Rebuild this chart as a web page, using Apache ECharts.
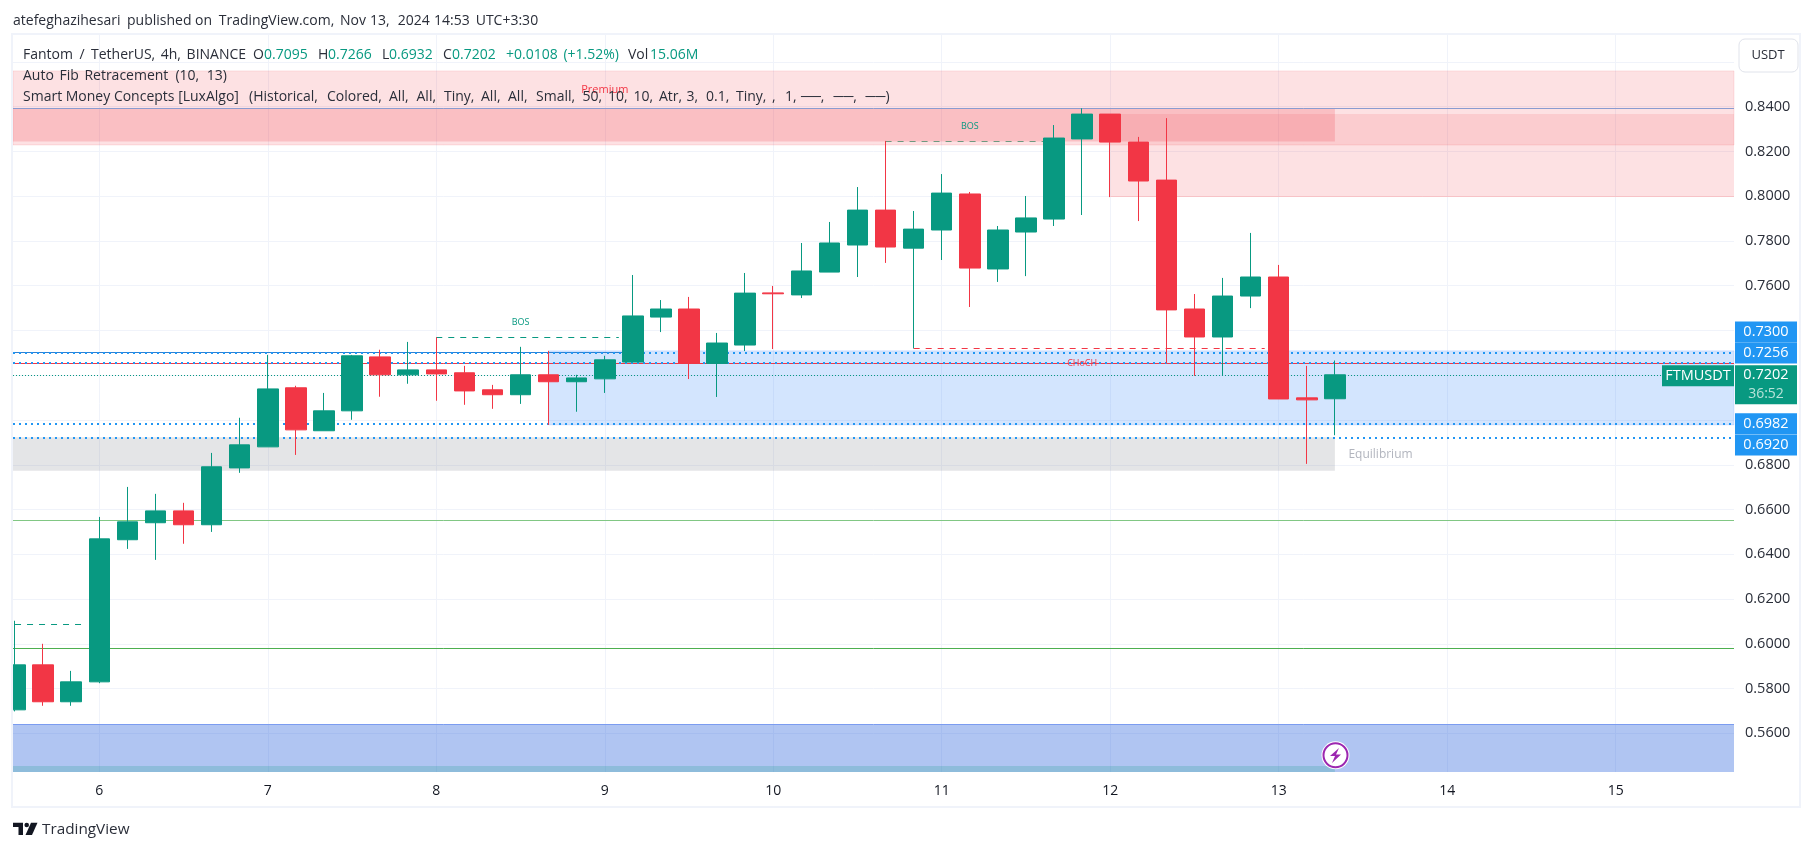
<!DOCTYPE html>
<html><head><meta charset="utf-8">
<style>html,body{margin:0;padding:0;background:#fff}#c{width:1814px;height:851px}</style>
<script src="https://cdn.jsdelivr.net/npm/echarts@6/dist/echarts.min.js"></script>
</head><body><div id="c"></div>
<script>
// Hours after the start of day 6 for each 4h candle
const candleHours=[-12,-8,-4,0,4,8,12,16,20,24,28,32,36,40,44,48,52,56,60,64,68,72,76,80,84,88,92,96,100,104,108,112,116,120,124,128,132,136,140,144,148,152,156,160,164,168,172,176];
const opens =[.5705,.5906,.5741,.5830,.6465,.6541,.6594,.6532,.6786,.6880,.7144,.6952,.7041,.7282,.7202,.7224,.7211,.7135,.7113,.7202,.7171,.7184,.7259,.7460,.7496,.7253,.7335,.7568,.7559,.7661,.7782,.7938,.7768,.7849,.8010,.7675,.7840,.7898,.8256,.8367,.8242,.8072,.7496,.7371,.7554,.7639,.7099,.7095];
const closes=[.5906,.5741,.5830,.6469,.6545,.6594,.6532,.6791,.6889,.7139,.6956,.7041,.7287,.7202,.7224,.7206,.7130,.7113,.7202,.7171,.7188,.7269,.7465,.7496,.7253,.7344,.7567,.7564,.7666,.7791,.7938,.7773,.7853,.8014,.7679,.7849,.7903,.8260,.8367,.8242,.8068,.7492,.7371,.7554,.7639,.7094,.7090,.7202];
const lows  =[.5698,.5723,.5723,.5824,.6424,.6375,.6447,.6500,.6764,.6880,.6844,.6952,.7001,.7104,.7162,.7086,.7068,.7050,.7072,.6978,.7037,.7121,.7259,.7393,.7183,.7103,.7308,.7317,.7545,.7661,.7639,.7702,.7320,.7715,.7505,.7617,.7643,.7867,.7916,.7996,.7889,.7253,.7197,.7197,.7500,.7094,.6804,.6932];
const highs =[.6103,.6000,.5879,.6567,.6701,.6670,.6630,.6853,.7010,.7291,.7153,.7121,.7291,.7314,.7349,.7370,.7242,.7157,.7327,.7309,.7202,.7287,.7648,.7536,.7550,.7389,.7657,.7599,.7791,.7885,.8041,.8247,.7934,.8099,.8019,.7867,.8001,.8318,.8393,.8367,.8265,.8349,.7563,.7635,.7836,.7693,.7242,.7266];
const dayTicks=[0,24,48,72,96,120,144,168,192,216];
const dayLabels=['6','7','8','9','10','11','12','13','14','15'];
const gridPrices=[.56,.58,.60,.62,.64,.66,.68,.70,.72,.74,.76,.78,.80,.82,.84,.86];
const labelPrices=[.56,.58,.60,.62,.64,.66,.68,.76,.78,.80,.82,.84];
const xMin=-12.29,xMax=232.85,yMin=.54272,yMax=.87204;
const GREEN='#089981',RED='#f23645',BLUE='#2196f3';

function band(x0,x1,p0,p1,color,border){
  return [{coord:[x0,p0],itemStyle:{color:color,borderColor:border||'transparent',borderWidth:border?1:0}},{coord:[x1,p1]}];
}
function seg(x0,x1,p,color,width,type){
  return [{coord:[x0,p],lineStyle:{color:color,width:width,type:type,opacity:1}},{coord:[x1,p]}];
}
function tag(p,dx,dy,w,h,color,text,extra){
  return Object.assign({coord:[xMax,p],symbol:'rect',symbolSize:[w,h],symbolOffset:[dx,dy],
    itemStyle:{color:color},
    label:{show:true,position:'inside',formatter:text,color:'#fff',fontFamily:FONT,fontSize:14.5}},extra||{});
}
function note(x,p,text,color,size){
  return {coord:[x,p],symbol:'circle',symbolSize:0,
    label:{show:true,position:'inside',formatter:text,color:color,fontFamily:FONT,fontSize:size}};
}
const FONT='"Open Sans",sans-serif';
function txt(x,y,t,fill,size,extra){
  return {type:'text',x:x,y:y,z:50,silent:true,style:Object.assign({text:t,fill:fill,font:size+'px '+FONT,textVerticalAlign:'middle'},extra||{})};
}
function words(y,list,fill){ return list.map(w=>txt(w[0],y,w[1],w[2]||fill,14)); }
const INK='#2a2e39';
const option={
  animation:false,
  backgroundColor:'#ffffff',
  grid:{left:13,right:80,top:35,bottom:79,containLabel:false},
  tooltip:{show:false},
  xAxis:{type:'value',min:xMin,max:xMax,
    axisLine:{show:false},
    axisTick:{show:false,customValues:dayTicks},
    splitLine:{show:true,lineStyle:{color:'#f0f3fa',width:1}},
    axisLabel:{customValues:dayTicks,margin:12,color:'#131722',fontFamily:FONT,fontSize:14,
      formatter:v=>dayLabels[dayTicks.indexOf(v)]}
  },
  yAxis:{type:'value',position:'right',min:yMin,max:yMax,scale:true,
    axisLine:{show:false},
    axisTick:{show:false,customValues:gridPrices},
    splitLine:{show:true,lineStyle:{color:'#f0f3fa',width:1}},
    axisLabel:{customValues:labelPrices,margin:11,color:'#2a2e39',fontFamily:FONT,fontSize:14.5,
      formatter:v=>v.toFixed(4)}
  },
  series:[
    {type:'line',name:'zones',z:1,data:[],silent:true,
      markArea:{silent:true,z:1,data:[
        band(xMin,xMax,.8229,.8560,'rgba(242,54,69,.15)','rgba(242,54,69,.12)'),
        band(xMin,176,.8244,.8393,'rgba(242,54,69,.2)'),
        band(144,xMax,.8229,.8367,'rgba(242,54,69,.12)'),
        band(144,xMax,.8000,.8229,'rgba(242,54,69,.15)'),
        band(64,xMax,.6978,.7309,'rgba(37,124,250,.2)','rgba(41,98,255,.12)'),
        band(xMin,176,.6773,.6923,'rgba(120,123,134,.2)'),
        band(xMin,xMax,yMin,.5640,'rgba(41,98,220,.37)'),
        band(xMin,176,yMin,.5454,'rgba(8,153,129,.2)')
      ]},
      markLine:{silent:true,z:3,symbol:'none',label:{show:false},data:[
        seg(xMin,xMax,.8393,'#8a9bd0',1,'solid'),
        seg(144,xMax,.8000,'#f7c3c7',1,'solid'),
        seg(xMin,xMax,.5640,'#7b9cf0',1,'solid'),
        seg(xMin,74.5,.7302,'#2f7fd0',1,'solid'),
        seg(xMin,xMax,.7254,RED,1,'solid'),
        seg(xMin,xMax,.6552,'#81c784',1,'solid'),
        seg(xMin,xMax,.5981,'#4caf50',1,'solid'),
        seg(xMin,xMax,.7202,GREEN,1,[1,2]),
        seg(xMin,xMax,.7302,BLUE,2,[2,4]),
        seg(xMin,xMax,.7257,BLUE,2,[2,4]),
        seg(xMin,xMax,.6983,BLUE,2,[2,4]),
        seg(xMin,xMax,.6920,BLUE,2,[2,4]),
        seg(-12,-2,.6088,GREEN,1,[6,6]),
        seg(48,74,.7370,GREEN,1,[6,6]),
        seg(112,134.6,.8244,'#6f9a80',1,[6,6]),
        seg(116,166,.7320,RED,1,[6,6])
      ]}
    },
    {type:'candlestick',name:'FTMUSDT',z:10,barWidth:21,clip:true,
      encode:{x:0,y:[1,2,3,4]},
      itemStyle:{color:GREEN,color0:RED,borderColor:GREEN,borderColor0:RED,borderWidth:1},
      data:candleHours.map((h,i)=>[h,opens[i],closes[i],lows[i],highs[i]])
    },
    {type:'line',name:'notes',z:20,data:[],silent:true,
      markPoint:{silent:true,z:20,data:[
        note(60,.7435,'BOS',GREEN,9),
        note(124,.8310,'BOS',GREEN,9),
        note(72,.8477,'Premium',RED,11),
        note(140,.7254,'CHoCH',RED,9),
        note(182.5,.6844,'Equilibrium','#b2b5be',12),
        tag(.7302,32,-20.5,62,21,BLUE,'0.7300'),
        tag(.7257,32,-9.5,62,21,BLUE,'0.7256'),
        tag(.6983,32,0,62,21,BLUE,'0.6982'),
        tag(.6920,32,7,62,21,BLUE,'0.6920'),
        tag(.7202,32,10,62,39,GREEN,'',{label:{show:true,position:'inside',
          formatter:'{a|0.7202}\n{b|36:52}',rich:{
            a:{color:'#fff',fontFamily:FONT,fontSize:14.5,lineHeight:19},
            b:{color:'#b8e3d9',fontFamily:FONT,fontSize:14,lineHeight:19}}}}),
        tag(.7202,-36,1,72,21,GREEN,'FTMUSDT')
      ]}
    }
  ],
  graphic:{elements:[
    {type:'rect',z:40,silent:true,shape:{x:0,y:35,width:12,height:737},style:{fill:'#fff'}},
    {type:'rect',z:41,silent:true,shape:{x:12,y:34,width:1788,height:773},style:{fill:'none',stroke:'#f0f3fa',lineWidth:2}},
    ...words(21,[[13,'atefeghazihesari'],[127,'published on'],[218.8,'TradingView.com,'],[340,'Nov'],[370,'13,'],[397.7,'2024'],[434,'14:53'],[475.7,'UTC+3:30']],INK),
    ...words(55,[[23,'Fantom'],[79.5,'/'],[91,'TetherUS,'],[160.7,'4h,'],[186.6,'BINANCE'],
      [253,'O'],[264,'0.7095',GREEN],[318,'H'],[328,'0.7266',GREEN],[382,'L'],[389,'0.6932',GREEN],[443,'C'],[452,'0.7202',GREEN],
      [506,'+0.0108',GREEN],[563.4,'(+1.52%)',GREEN],[628,'Vol'],[650,'15.06M',GREEN]],INK),
    ...words(76,[[23,'Auto'],[59.4,'Fib'],[84.4,'Retracement'],[175.4,'(10,'],[206.7,'13)']],INK),
    ...words(97,[[23,'Smart Money Concepts [LuxAlgo]'],[249,'(Historical,'],[327,'Colored,'],[389,'All,'],[416.5,'All,'],[444,'Tiny,'],[481,'All,'],[508,'All,'],[536,'Small,'],[582.6,'50,'],[608,'10,'],[633.5,'10,'],[659,'Atr,'],[686.5,'3,'],[706,'0.1,'],[736,'Tiny,'],[772,','],[785,'1,'],[801,'──,'],[833.5,'──,'],[865.6,'──)']],INK),
    {type:'rect',z:50,silent:true,shape:{x:1739,y:39,width:59,height:33,r:6},style:{fill:'#fff',stroke:'#e0e3eb',lineWidth:1}},
    txt(1768,55.5,'USDT',INK,13,{textAlign:'center'}),
    {type:'circle',z:60,silent:true,shape:{cx:1335.5,cy:755.3,r:14},style:{fill:'#fff'}},
    {type:'circle',z:61,silent:true,shape:{cx:1335.5,cy:755.3,r:12},style:{fill:'#fff',stroke:'#9c27b0',lineWidth:2}},
    {type:'polygon',z:62,silent:true,shape:{points:[[1339,748],[1330,756],[1335,756],[1332,763],[1341,754.5],[1336,754.5]]},style:{fill:'#9c27b0'}},
    {type:'polygon',z:50,silent:true,shape:{points:[[13,822.7],[23,822.7],[23,835],[18.5,835],[18.5,827],[13,827]]},style:{fill:'#131722'}},
    {type:'circle',z:50,silent:true,shape:{cx:26.7,cy:825,r:2.3},style:{fill:'#131722'}},
    {type:'polygon',z:50,silent:true,shape:{points:[[31,822.7],[37.5,822.7],[32,835],[25.5,835]]},style:{fill:'#131722'}},
    txt(42,830,'TradingView','#2a2e39',15.3)
  ]}
};
const chart=echarts.init(document.getElementById('c'),null,{renderer:'canvas',width:1814,height:851});
chart.setOption(option);
</script></body></html>
